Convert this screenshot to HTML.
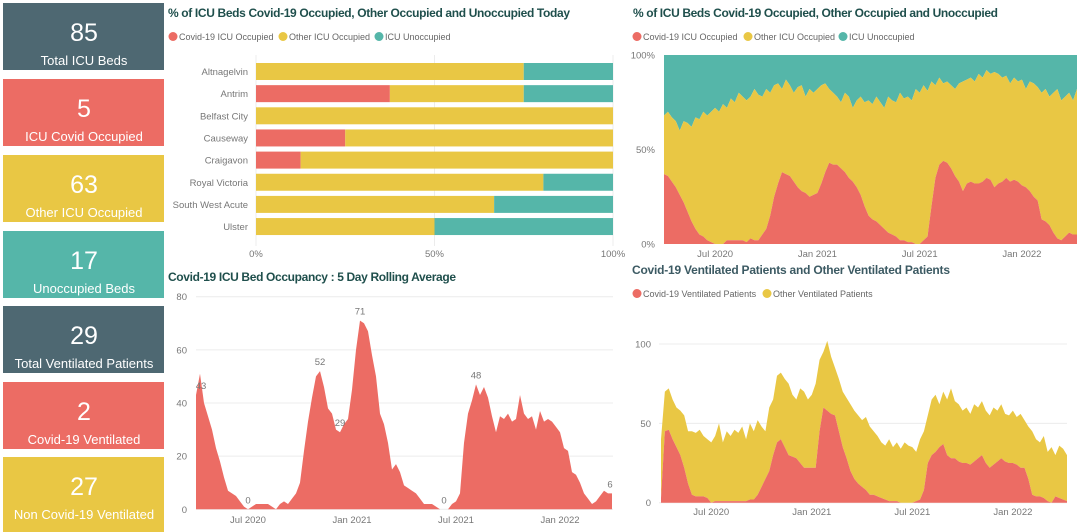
<!DOCTYPE html>
<html><head><meta charset="utf-8">
<style>
html,body{margin:0;padding:0;background:#fff;}
svg{display:block;font-family:"Liberation Sans",sans-serif;}
.title{font-weight:bold;fill:#1f4f4c;font-size:12px;}
.title2{font-weight:bold;fill:#3c5a63;font-size:12px;}
.leg{fill:#666;font-size:9px;}
.tick{fill:#777;font-size:9.5px;}
.card-num{fill:#fff;font-size:25px;}
.card-lab{fill:#fff;font-size:13px;}
</style></head>
<body>
<svg id="dash" width="1080" height="532" viewBox="0 0 1080 532" xmlns="http://www.w3.org/2000/svg">
  <g id="cards"></g>
  <g id="barChart"></g>
  <g id="pctChart"></g>
  <g id="rollChart"></g>
  <g id="ventChart"></g>
</svg>
<script>
// ---------- KPI cards ----------
const cardValues = [85, 5, 63, 17, 29, 2, 27];
const cardLabels = ["Total ICU Beds","ICU Covid Occupied","Other ICU Occupied","Unoccupied Beds","Total Ventilated Patients","Covid-19 Ventilated","Non Covid-19 Ventilated"];
const cardColors = ["#4e6872","#ec6c64","#e9c744","#55b6a9","#4e6872","#ec6c64","#e9c744"];

// ---------- Bar chart (today) ----------
const hospitals = ["Altnagelvin","Antrim","Belfast City","Causeway","Craigavon","Royal Victoria","South West Acute","Ulster"];
const covidToday = [0, 37.5, 0, 25, 12.5, 0, 0, 0];
const otherToday = [75, 37.5, 100, 75, 87.5, 80.5, 66.7, 50];
const unoccToday = [25, 25, 0, 0, 0, 19.5, 33.3, 50];
const pctTicks = [0, 50, 100];

// ---------- Weekly time series (week 0 = early Apr 2020) ----------
const monthTickWeeks = [13, 39, 65, 91];
const monthTickLabels = ["Jul 2020","Jan 2021","Jul 2021","Jan 2022"];

const covidPct = [37,36,33,30,26,22,17,12,8,5, 4,2,1,0,0,0,2,2,2,2, 2,1,3,2,2,5,8,15,25,32, 38,37,36,33,30,28,27,25,26,27, 32,38,43,42,42,40,38,35,33,30, 26,20,15,13,12,10,8,6,5,4, 2,2,1,1,0,0,2,4,20,35, 42,44,43,40,36,33,28,32,33,32, 32,33,35,34,30,32,33,35,33,34, 33,31,30,28,25,23,13,12,10,6, 3,2,4,6,5,5];
const unoccPct = [32,30,33,35,40,35,36,38,33,34, 30,32,30,28,30,26,28,23,25,20, 22,24,22,18,21,22,18,20,16,15, 18,13,16,20,17,16,22,18,20,18, 16,15,18,20,22,25,20,22,28,24, 22,25,24,26,22,25,28,22,24,25, 20,23,22,24,18,20,16,19,14,16, 12,15,14,16,18,15,14,13,12,14, 10,12,8,10,9,10,12,11,15,12, 14,13,18,14,15,17,20,18,22,20, 18,24,22,20,24,18];
const pctAxisTicks = [0, 50, 100];

const covidICU = [43,51,40,35,30,23,18,12,7,6, 5,3,1,0,1,2,2,2,2,1, 0,2,3,2,4,6,10,22,33,42, 50,52,46,38,36,30,29,32,34,45, 60,71,70,67,58,50,36,32,25,15, 17,14,9,8,7,6,4,2,2,2, 1,0,0,0,2,3,6,25,36,41, 47,43,46,42,35,29,35,34,36,33, 34,43,36,34,35,30,37,33,34,33, 31,29,23,22,14,13,10,6,4,2, 3,5,7,6,6];
const rollTicks = [0, 20, 40, 60, 80];
const rollLabelWeeks = [0, 13, 31, 36, 41, 62, 70, 104];
const rollLabelTexts = ["43","0","52","29","71","0","48","6"];

const covidVent = [3,45,46,40,35,30,22,12,5,4, 4,4,3,0,1,1,1,1,1,1, 1,1,1,2,2,5,10,15,20,30, 38,40,35,30,29,28,25,22,22,22, 22,45,60,58,56,55,45,35,28,20, 15,12,10,8,5,5,4,3,2,1, 1,1,0,0,0,0,1,2,8,25, 30,32,35,37,30,28,28,26,25,25, 24,26,28,30,25,22,24,26,28,26, 25,25,24,22,22,15,5,4,4,3, 1,0,4,3,2,1];
const otherVent = [37,25,26,25,25,28,33,33,40,40, 42,38,37,38,41,49,37,44,41,45, 43,47,39,48,43,47,38,30,40,35, 42,42,43,45,39,37,47,48,43,46, 53,45,35,44,36,30,33,35,38,42, 43,43,42,46,43,40,38,35,34,39, 34,37,34,38,36,35,31,38,37,30, 35,36,27,33,35,44,36,36,33,35, 32,36,32,34,33,33,36,32,34,30, 30,33,30,34,30,33,40,36,34,39, 31,35,26,33,32,29];
const ventTicks = [0, 50, 100];

const RED="#ec6c64", YEL="#e9c744", TEAL="#55b6a9", GRID="#ececec";
const NS="http://www.w3.org/2000/svg";
function mk(tag, attrs, parent){const e=document.createElementNS(NS,tag);for(const k in attrs)e.setAttribute(k,attrs[k]);parent.appendChild(e);return e;}
function txt(parent, x, y, s, cls, anchor){const t=mk('text',{x:x,y:y,'class':cls,'text-anchor':anchor||'start'},parent);t.textContent=s;return t;}

// Cards
const cardsG=document.getElementById('cards');
const cardTops=[3,79,155,231,306,382,457];
cardValues.forEach((v,i)=>{
  const g=mk('g',{},cardsG);
  
  
  const h = i===6 ? 75 : 67;
  mk('rect',{x:3,y:cardTops[i],width:161,height:h,fill:cardColors[i]},g);
  const n=txt(g,84,cardTops[i]+38,String(v),'card-num','middle');
  
  
  const l=txt(g,84,cardTops[i]+62,cardLabels[i],'card-lab','middle');
  
  
});

function legend(parent, x, y, items){
  items.forEach(it=>{
    const cx=x+it[2];
    const g=mk('g',{},parent);
    
    
    mk('circle',{cx:cx+4,cy:y-3.5,r:4.5,fill:it[1]},g);
    txt(g,cx+10,y,it[0],'leg');
  });
}

// ---------- Bar chart ----------
(function(){
  const G=document.getElementById('barChart');
  const t=txt(G,168,17,"% of ICU Beds Covid-19 Occupied, Other Occupied and Unoccupied Today",'title');
  t.setAttribute('textLength','402');
  
  
  legend(G,169,40,[["Covid-19 ICU Occupied",RED,0],["Other ICU Occupied",YEL,110],["ICU Unoccupied",TEAL,206]]);
  const x0=256,x1=613;
  const xs=v=>x0+(x1-x0)*v/100;
  pctTicks.forEach(v=>{
    const l=mk('line',{x1:xs(v),x2:xs(v),y1:55,y2:246,stroke:GRID,'stroke-width':1},G);
    
    
    const tt=txt(G,xs(v),257,v+'%','tick','middle');
    
    
  });
  hospitals.forEach((h,i)=>{
    const cy=71.5+i*22.15, bh=17;
    const lab=txt(G,248,cy+3.5,h,'tick','end');
    
    
    let acc=0;
    [[covidToday[i],RED,'bar-covid'],[otherToday[i],YEL,'bar-other'],[unoccToday[i],TEAL,'bar-unoccupied']].forEach(s=>{
      if(s[0]>0){
        const r=mk('rect',{x:xs(acc),y:cy-bh/2,width:xs(acc+s[0])-xs(acc),height:bh,fill:s[1]},G);
        
        
      }
      acc+=s[0];
    });
  });
})();

function xTicks(G, xf, y){
  monthTickWeeks.forEach((w,i)=>{
    const t=txt(G,xf(w),y,monthTickLabels[i],'tick','middle');
    
    
  });
}
function areaPath(xf, yLo, yHi, n){
  let d='M'+xf(0)+','+yLo(0);
  for(let i=0;i<n;i++) d+=' L'+xf(i)+','+yHi(i);
  for(let i=n-1;i>=0;i--) d+=' L'+xf(i)+','+yLo(i);
  return d+' Z';
}

// ---------- Pct over time ----------
(function(){
  const G=document.getElementById('pctChart');
  const t=txt(G,633,17,"% of ICU Beds Covid-19 Occupied, Other Occupied and Unoccupied",'title');
  t.setAttribute('textLength','365');
  
  
  legend(G,633,40,[["Covid-19 ICU Occupied",RED,0],["Other ICU Occupied",YEL,111],["ICU Unoccupied",TEAL,206]]);
  const n=covidPct.length;
  const xf=i=>664+i*(1077-664)/(n-1);
  const yf=v=>244-189*v/100;
  pctAxisTicks.forEach(v=>{
    const tt=txt(G,655,yf(v)+3.5,v+'%','tick','end');
    
    
  });
  const u=mk('path',{d:areaPath(xf,i=>yf(100-unoccPct[i]),i=>yf(100),n),fill:TEAL},G);
  
  
  const o=mk('path',{d:areaPath(xf,i=>yf(covidPct[i]),i=>yf(100-unoccPct[i]),n),fill:YEL},G);
  
  
  const c=mk('path',{d:areaPath(xf,i=>yf(0),i=>yf(covidPct[i]),n),fill:RED},G);
  
  
  xTicks(G,xf,257);
})();

// ---------- Rolling average ----------
(function(){
  const G=document.getElementById('rollChart');
  const t=txt(G,168,281,"Covid-19 ICU Bed Occupancy : 5 Day Rolling Average",'title');
  t.setAttribute('textLength','288');
  
  
  const xf=i=>196+i*4;
  const yf=v=>509.3-212.6*v/80;
  rollTicks.forEach(v=>{
    const l=mk('line',{x1:196,x2:613,y1:yf(v),y2:yf(v),stroke:GRID,'stroke-width':1},G);
    
    
    const tt=txt(G,187,yf(v)+3.5,String(v),'tick','end');
    
    
  });
  const a=mk('path',{d:areaPath(xf,i=>yf(0),i=>yf(covidICU[i]),covidICU.length),fill:RED},G);
  
  
  rollLabelWeeks.forEach((w,k)=>{
    const tt=txt(G,Math.min(xf(w)+ (w===0?5:0),610),yf(covidICU[w])-6,rollLabelTexts[k],'tick','middle');
    
    
  });
  xTicks(G,xf,523);
})();

// ---------- Ventilated ----------
(function(){
  const G=document.getElementById('ventChart');
  const t=txt(G,632,274,"Covid-19 Ventilated Patients and Other Ventilated Patients",'title2');
  t.setAttribute('textLength','318');
  
  
  legend(G,633,297,[["Covid-19 Ventilated Patients",RED,0],["Other Ventilated Patients",YEL,130]]);
  const n=covidVent.length;
  const xf=i=>661+i*(1067-661)/(n-1);
  const yf=v=>502.7-158.7*v/100;
  ventTicks.forEach(v=>{
    const l=mk('line',{x1:659,x2:1067,y1:yf(v),y2:yf(v),stroke:GRID,'stroke-width':1},G);
    
    
    const tt=txt(G,651,yf(v)+3.5,String(v),'tick','end');
    
    
  });
  const o=mk('path',{d:areaPath(xf,i=>yf(covidVent[i]),i=>yf(covidVent[i]+otherVent[i]),n),fill:YEL},G);
  
  
  const c=mk('path',{d:areaPath(xf,i=>yf(0),i=>yf(covidVent[i]),n),fill:RED},G);
  
  
  xTicks(G,xf,515);
})();
</script>
</body></html>
